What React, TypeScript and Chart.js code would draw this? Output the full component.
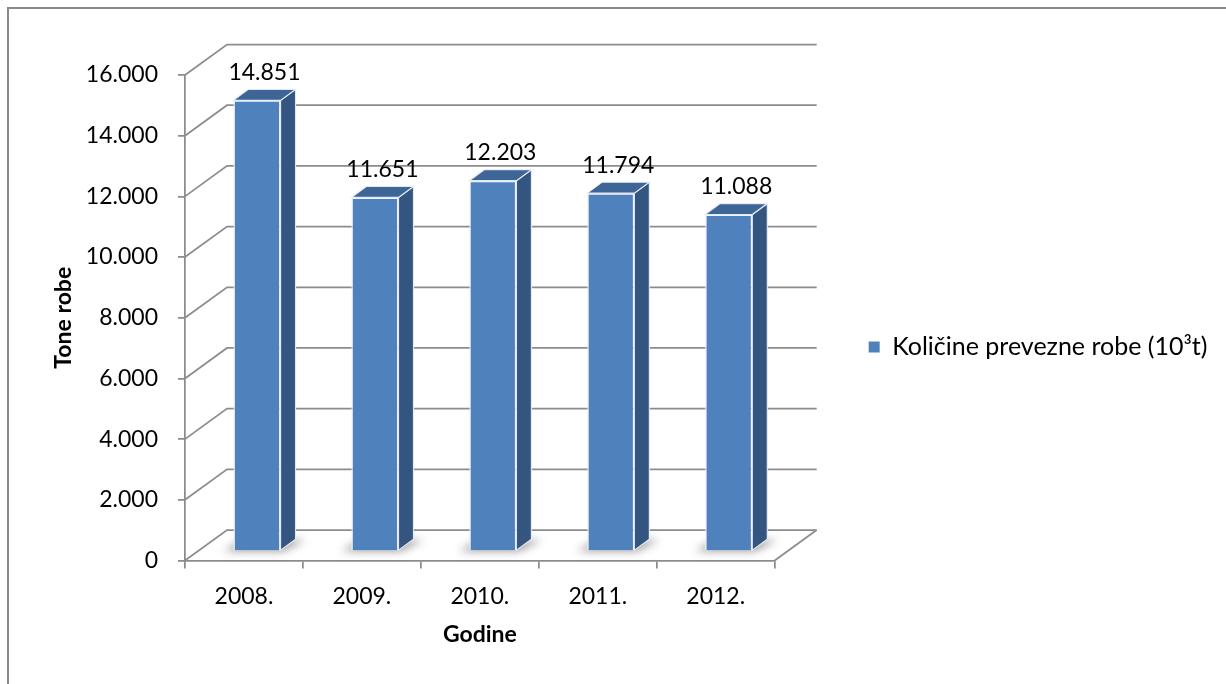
import React, { useEffect, useRef } from 'react';
import { Chart, registerables } from 'chart.js';

Chart.register(...registerables);

// ---- data ----
const categories = ['2008.', '2009.', '2010.', '2011.', '2012.'];
const values = [14851, 11651, 12203, 11794, 11088];
const seriesLabel = 'Količine prevezne robe (10³t)';
const yMin = 0;
const yMax = 16000;
const yStep = 2000;
const xTitle = 'Godine';
const yTitle = 'Tone robe';

// ---- style ----
const FONT = 'Lato';
const FS = 23;
const LEGEND_FS = 25;
const GRID = '#8C8C8C';
const FRONT = '#4F81BD';
const SIDE = '#34557F';
const TOP = '#3D6696';
const EDGE = 'rgba(235,241,250,0.9)';
const WALL_DX = 42;
const WALL_DY = -30.5;
const BAR_DX = 13;
const BAR_DY = -9.5;
const DEPTH_X = 15;
const DEPTH_Y = -11;
const LABEL_GAP = 28;

const fmt = (v: number) => String(Math.round(v)).replace(/\B(?=(\d{3})+(?!\d))/g, '.');

const threeD = {
  id: 'threeD',
  beforeDatasetsDraw(chart: any) {
    const { ctx, chartArea: a, scales } = chart;
    const ys = scales.y;
    ctx.save();
    ctx.strokeStyle = GRID;
    ctx.lineWidth = 1.75;
    ys.ticks.forEach((t: any) => {
      const py = ys.getPixelForValue(t.value);
      ctx.beginPath();
      ctx.moveTo(a.left, py);
      ctx.lineTo(a.left + WALL_DX, py + WALL_DY);
      ctx.lineTo(a.right + WALL_DX, py + WALL_DY);
      ctx.stroke();
    });
    ctx.beginPath();
    ctx.moveTo(a.right, a.bottom);
    ctx.lineTo(a.right + WALL_DX, a.bottom + WALL_DY);
    ctx.stroke();
    // soft floor shadows
    const meta = chart.getDatasetMeta(0);
    ctx.filter = 'blur(4px)';
    ctx.fillStyle = 'rgba(0,0,0,0.38)';
    meta.data.forEach((el: any) => {
      const { x, base, width } = el.getProps(['x', 'base', 'width'], true);
      const x0 = x - width / 2 + BAR_DX;
      const x1 = x + width / 2 + BAR_DX;
      const b = base + BAR_DY;
      ctx.beginPath();
      ctx.moveTo(x0 - 10, b + 1);
      ctx.lineTo(x1 + 2, b + 1);
      ctx.lineTo(x1 + DEPTH_X + 10, b + DEPTH_Y + 1);
      ctx.lineTo(x0 + DEPTH_X - 4, b + DEPTH_Y);
      ctx.closePath();
      ctx.fill();
    });
    ctx.restore();
  },
  beforeDatasetDraw(chart: any) {
    chart.ctx.save();
    chart.ctx.translate(BAR_DX, BAR_DY);
  },
  afterDatasetDraw(chart: any, args: any) {
    const ctx = chart.ctx;
    args.meta.data.forEach((el: any) => {
      const { x, y, base, width } = el.getProps(['x', 'y', 'base', 'width'], true);
      const l = x - width / 2;
      const r = x + width / 2;
      ctx.lineWidth = 1.2;
      ctx.strokeStyle = EDGE;
      ctx.beginPath();
      ctx.moveTo(r, y);
      ctx.lineTo(r + DEPTH_X, y + DEPTH_Y);
      ctx.lineTo(r + DEPTH_X, base + DEPTH_Y);
      ctx.lineTo(r, base);
      ctx.closePath();
      ctx.fillStyle = SIDE;
      ctx.fill();
      ctx.stroke();
      ctx.beginPath();
      ctx.moveTo(l, y);
      ctx.lineTo(l + DEPTH_X, y + DEPTH_Y);
      ctx.lineTo(r + DEPTH_X, y + DEPTH_Y);
      ctx.lineTo(r, y);
      ctx.closePath();
      ctx.fillStyle = TOP;
      ctx.fill();
      ctx.stroke();
    });
    ctx.restore();
  },
  afterDatasetsDraw(chart: any) {
    const { ctx } = chart;
    const meta = chart.getDatasetMeta(0);
    ctx.save();
    ctx.font = `${FS}px ${FONT}`;
    ctx.fillStyle = '#000';
    ctx.textAlign = 'center';
    ctx.textBaseline = 'middle';
    meta.data.forEach((el: any, i: number) => {
      const { x, y } = el.getProps(['x', 'y'], true);
      ctx.fillText(fmt(values[i]), x + BAR_DX + DEPTH_X / 2, y + BAR_DY - LABEL_GAP);
    });
    ctx.restore();
  },
};

export default function App() {
  const ref = useRef<HTMLCanvasElement>(null);
  useEffect(() => {
    if (!ref.current) return;
    const chart = new Chart(ref.current, {
      type: 'bar',
      data: {
        labels: categories,
        datasets: [
          {
            label: seriesLabel,
            data: values,
            backgroundColor: FRONT,
            borderColor: EDGE,
            borderWidth: 1.5,
            barPercentage: 0.4,
            categoryPercentage: 1,
            clip: false as any,
          },
        ],
      },
      options: {
        responsive: false,
        animation: false,
        events: [],
        layout: { padding: { left: 46, top: 75, right: 8.5, bottom: 32 } },
        font: { family: FONT },
        scales: {
          x: {
            grid: { display: true, drawOnChartArea: false, drawTicks: true, tickLength: 8, color: GRID, lineWidth: 1.75, offset: true },
            border: { display: true, color: GRID, width: 1.75 },
            ticks: { color: '#000', font: { family: FONT, size: FS }, padding: 14 },
            title: { display: true, text: xTitle, color: '#000', font: { family: FONT, size: 23, weight: 'bold' } },
            afterFit: (s: any) => { s.height = 91.5; },
          },
          y: {
            min: yMin,
            max: yMax,
            grid: { display: true, drawOnChartArea: false, drawTicks: true, tickLength: 7, color: GRID, lineWidth: 1.75 },
            border: { display: true, color: GRID, width: 1.75 },
            ticks: { stepSize: yStep, color: '#000', font: { family: FONT, size: FS }, padding: 20, callback: (v: any) => fmt(Number(v)) },
            title: { display: true, text: yTitle, color: '#000', font: { family: FONT, size: 23, weight: 'bold' } },
            afterFit: (s: any) => { s.width = 139; },
          },
          y2: {
            type: 'linear',
            position: 'right',
            display: true,
            grid: { display: false },
            border: { display: false },
            ticks: { display: false },
            afterFit: (s: any) => { s.width = 84; },
          },
        },
        plugins: {
          tooltip: { enabled: false },
          legend: {
            display: true,
            position: 'right',
            fullSize: false,
            align: 'center',
            maxWidth: 700,
            title: { display: true, text: '', font: { size: 10, lineHeight: 1 }, padding: { top: 0, bottom: 48.5 } },
            labels: {
              color: '#000',
              font: { family: FONT, size: LEGEND_FS },
              boxWidth: 11,
              boxHeight: 11,
              padding: 10,
              generateLabels: (c: any) =>
                (Chart.defaults.plugins.legend.labels.generateLabels as any)(c).map((l: any) => ({ ...l, lineWidth: 0, strokeStyle: 'transparent' })),
            },
          },
        },
      } as any,
      plugins: [threeD],
    });
    return () => chart.destroy();
  }, []);

  return (
    <div style={{ position: 'fixed', left: 0, top: 0, width: 1226, height: 684, overflow: 'hidden', background: '#fff' }}>
      <div style={{ position: 'absolute', left: 7, top: 7, width: 1400, height: 900, borderLeft: '2px solid #8a8a8a', borderTop: '2px solid #8a8a8a' }} />
      <canvas ref={ref} width={1226} height={684} style={{ position: 'absolute', left: 0, top: 0, width: 1226, height: 684 }} />
    </div>
  );
}
